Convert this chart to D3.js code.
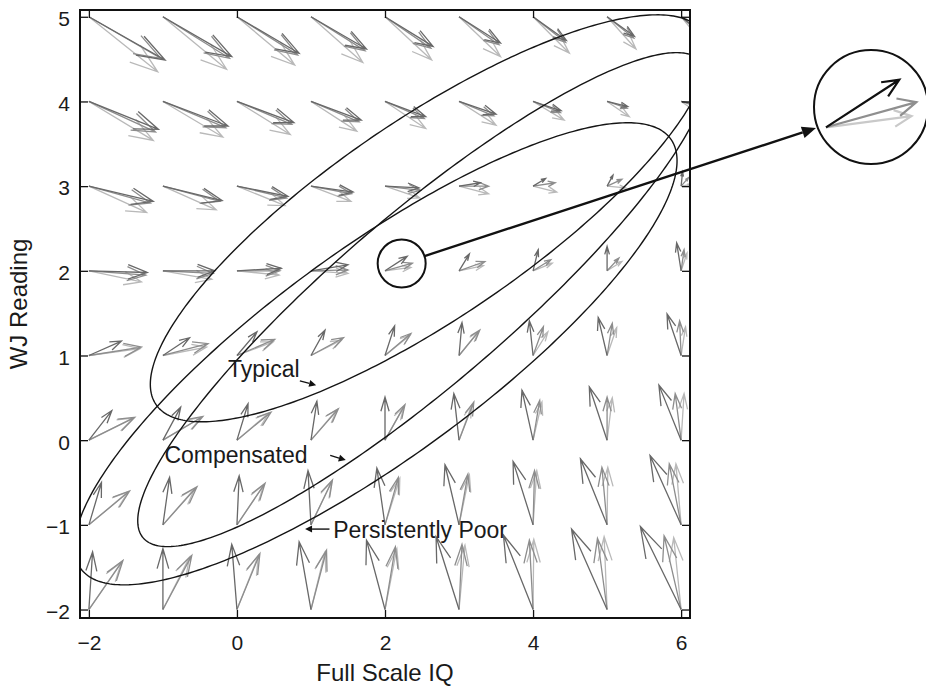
<!DOCTYPE html>
<html>
<head>
<meta charset="utf-8">
<script src="https://cdn.jsdelivr.net/npm/d3@7"></script>
<style>
  html, body { margin: 0; padding: 0; background: #fff; }
  svg { display: block; font-family: "Liberation Sans", Arial, Helvetica, sans-serif; }
</style>
</head>
<body>
<svg id="chart" width="926" height="688"></svg>
<script>
// Grid of starting points (Full Scale IQ across, WJ Reading down the rows)
const gridIQ = [-2, -1, 0, 1, 2, 3, 4, 5, 6];
const gridReading = [5, 4, 3, 2, 1, 0, -1, -2];

const iqTicks = [-2, 0, 2, 4, 6];
const readingTicks = [-2, -1, 0, 1, 2, 3, 4, 5];

// Change vectors [dIQ, dReading], one row per reading level (5 .. -2)
const darkField = [
  [[1.03,-0.51],[0.93,-0.47],[0.84,-0.43],[0.75,-0.38],[0.65,-0.35],[0.56,-0.31],[0.45,-0.28],[0.37,-0.23],[0.28,-0.19]],
  [[0.94,-0.33],[0.88,-0.29],[0.77,-0.25],[0.68,-0.22],[0.55,-0.18],[0.50,-0.15],[0.38,-0.11],[0.28,-0.06],[0.19,-0.03]],
  [[0.87,-0.18],[0.80,-0.17],[0.69,-0.12],[0.57,-0.07],[0.46,-0.02],[0.29,0.04],[0.17,0.09],[0.08,0.13],[0.02,0.17]],
  [[0.79,-0.02],[0.70,0.00],[0.60,0.03],[0.50,0.07],[0.30,0.17],[0.14,0.20],[0.07,0.25],[0.00,0.29],[-0.06,0.33]],
  [[0.44,0.17],[0.36,0.21],[0.27,0.28],[0.19,0.30],[0.13,0.35],[0.04,0.39],[-0.05,0.41],[-0.12,0.45],[-0.19,0.49]],
  [[0.31,0.35],[0.24,0.39],[0.15,0.43],[0.08,0.46],[0.00,0.51],[-0.07,0.55],[-0.15,0.59],[-0.24,0.63],[-0.30,0.65]],
  [[0.17,0.50],[0.09,0.56],[0.03,0.58],[-0.04,0.64],[-0.11,0.67],[-0.19,0.71],[-0.27,0.75],[-0.36,0.78],[-0.42,0.82]],
  [[0.05,0.68],[0.00,0.72],[-0.07,0.77],[-0.16,0.80],[-0.25,0.82],[-0.31,0.86],[-0.40,0.88],[-0.48,0.95],[-0.55,0.98]]
];
const midField = [
  [[0.97,-0.49],[0.90,-0.49],[0.82,-0.45],[0.73,-0.40],[0.62,-0.37],[0.54,-0.33],[0.44,-0.30],[0.36,-0.25],[0.27,-0.21]],
  [[0.90,-0.36],[0.85,-0.31],[0.74,-0.27],[0.65,-0.24],[0.53,-0.20],[0.47,-0.17],[0.37,-0.13],[0.27,-0.08],[0.18,-0.05]],
  [[0.83,-0.20],[0.77,-0.18],[0.67,-0.14],[0.55,-0.09],[0.48,-0.05],[0.40,0.00],[0.30,0.04],[0.20,0.08],[0.10,0.10]],
  [[0.77,-0.05],[0.68,-0.03],[0.58,0.00],[0.50,0.01],[0.37,0.09],[0.35,0.11],[0.24,0.13],[0.16,0.15],[0.04,0.25]],
  [[0.71,0.10],[0.61,0.14],[0.51,0.19],[0.44,0.21],[0.35,0.26],[0.28,0.30],[0.14,0.34],[0.07,0.38],[-0.02,0.41]],
  [[0.62,0.27],[0.54,0.28],[0.46,0.33],[0.37,0.37],[0.27,0.42],[0.20,0.45],[0.09,0.47],[0.00,0.51],[-0.08,0.55]],
  [[0.55,0.40],[0.46,0.45],[0.38,0.49],[0.29,0.53],[0.18,0.56],[0.12,0.60],[0.02,0.64],[-0.07,0.68],[-0.16,0.72]],
  [[0.46,0.58],[0.39,0.64],[0.31,0.66],[0.21,0.70],[0.14,0.74],[0.04,0.77],[-0.05,0.82],[-0.13,0.84],[-0.23,0.87]]
];
const lightField = [
  [[0.93,-0.65],[0.86,-0.62],[0.78,-0.57],[0.70,-0.54],[0.63,-0.51],[0.56,-0.47],[0.49,-0.43],[0.39,-0.38],[0.31,-0.33]],
  [[0.87,-0.46],[0.81,-0.42],[0.72,-0.39],[0.62,-0.35],[0.55,-0.32],[0.50,-0.28],[0.42,-0.22],[0.30,-0.18],[0.22,-0.13]],
  [[0.78,-0.31],[0.72,-0.28],[0.65,-0.23],[0.54,-0.18],[0.47,-0.14],[0.40,-0.09],[0.32,-0.07],[0.25,-0.02],[0.13,0.02]],
  [[0.71,-0.13],[0.66,-0.10],[0.57,-0.05],[0.50,-0.03],[0.35,0.04],[0.33,0.06],[0.26,0.09],[0.20,0.11],[0.08,0.21]],
  [[0.69,0.08],[0.59,0.10],[0.49,0.16],[0.41,0.18],[0.34,0.24],[0.26,0.28],[0.20,0.28],[0.13,0.33],[0.06,0.34]],
  [[0.60,0.26],[0.52,0.27],[0.43,0.32],[0.35,0.36],[0.25,0.39],[0.17,0.41],[0.12,0.45],[0.07,0.50],[0.04,0.55]],
  [[0.53,0.39],[0.43,0.43],[0.36,0.47],[0.28,0.51],[0.20,0.55],[0.14,0.59],[0.05,0.64],[0.01,0.68],[-0.07,0.72]],
  [[0.44,0.56],[0.36,0.62],[0.29,0.64],[0.19,0.68],[0.16,0.72],[0.08,0.76],[0.01,0.83],[-0.04,0.86],[-0.10,0.85]]
];

// Group ellipses: centre, half-width along IQ, lean of the axis, half-height across it
const groupNames = ["Typical", "Compensated", "Persistently Poor"];
const ellipseCentreIQ = [2.6, 2.5, 1.875];
const ellipseCentreReading = [2.62, 1.66, 1.02];
const ellipseHalfWidth = [3.77, 3.84, 4.07];
const ellipseLean = [0.52, 0.68, 0.56];
const ellipseHalfHeight = [1.39, 1.3, 1.5];

// Magnified grid point
const focusIQ = 2, focusReading = 2;

const svg = d3.select("#chart");
const plotLeft = 80, plotRight = 690, plotTop = 10, plotBottom = 618;

const x = d3.scaleLinear().domain([-2.12, 6.12]).range([plotLeft, plotRight]);
const y = d3.scaleLinear().domain([-2.1, 5.08]).range([plotBottom, plotTop]);

svg.append("rect").attr("width", 926).attr("height", 688).attr("fill", "#fff");

svg.append("defs").append("clipPath").attr("id", "plotClip")
  .append("rect").attr("x", plotLeft).attr("y", plotTop)
  .attr("width", plotRight - plotLeft).attr("height", plotBottom - plotTop);

const plot = svg.append("g").attr("clip-path", "url(#plotClip)");

// quiver-style arrow: shaft plus two open barbs, computed in data units
function arrowPath(x0, y0, u, v, alpha, beta, sx, sy) {
  const tx = x0 + u, ty = y0 + v;
  const b1x = tx - alpha * (u + beta * v), b1y = ty - alpha * (v - beta * u);
  const b2x = tx - alpha * (u - beta * v), b2y = ty - alpha * (v + beta * u);
  return `M${sx(x0)},${sy(y0)}L${sx(tx)},${sy(ty)}` +
         `M${sx(b1x)},${sy(b1y)}L${sx(tx)},${sy(ty)}L${sx(b2x)},${sy(b2y)}`;
}

const fieldSeries = [
  { field: lightField, color: "#b9b9b9" },
  { field: midField, color: "#8d8d8d" },
  { field: darkField, color: "#686868" }
];

fieldSeries.forEach(s => {
  const g = plot.append("g").attr("fill", "none").attr("stroke", s.color)
    .attr("stroke-width", 1.3).attr("stroke-linejoin", "miter");
  gridReading.forEach((r, i) => {
    gridIQ.forEach((q, j) => {
      const [u, v] = s.field[i][j];
      g.append("path").attr("d", arrowPath(q, r, u, v, 0.33, 0.33, x, y));
    });
  });
});

// Ellipses
const ts = d3.range(0, 361).map(d => d * Math.PI / 180);
const line = d3.line().x(d => x(d[0])).y(d => y(d[1]));
groupNames.forEach((name, k) => {
  const pts = ts.map(t => {
    const c = Math.cos(t), s = Math.sin(t);
    return [ellipseCentreIQ[k] + ellipseHalfWidth[k] * c,
            ellipseCentreReading[k] + ellipseLean[k] * ellipseHalfWidth[k] * c + ellipseHalfHeight[k] * s];
  });
  plot.append("path").attr("d", line(pts)).attr("fill", "none")
    .attr("stroke", "#151515").attr("stroke-width", 1.4);
});

// Axes: inward ticks on all four sides
const fontTick = 21;
const gx = svg.append("g").attr("transform", `translate(0,${plotBottom})`)
  .call(d3.axisBottom(x).tickValues(iqTicks).tickSize(-8).tickPadding(17));
const gxTop = svg.append("g").attr("transform", `translate(0,${plotTop})`)
  .call(d3.axisTop(x).tickValues(iqTicks).tickSize(-8).tickFormat(""));
const gy = svg.append("g").attr("transform", `translate(${plotLeft},0)`)
  .call(d3.axisLeft(y).tickValues(readingTicks).tickSize(-8).tickPadding(10));
const gyRight = svg.append("g").attr("transform", `translate(${plotRight},0)`)
  .call(d3.axisRight(y).tickValues(readingTicks).tickSize(-8).tickFormat(""));

[gx, gxTop, gy, gyRight].forEach(g => {
  g.select(".domain").remove();
  g.selectAll(".tick line").attr("stroke", "#111").attr("stroke-width", 1.3);
  g.selectAll("text").attr("font-size", fontTick).attr("fill", "#1a1a1a")
    .attr("font-family", "'Liberation Sans', Arial, sans-serif");
});
gy.selectAll("text").attr("dy", "0.42em");

svg.append("rect").attr("x", plotLeft).attr("y", plotTop)
  .attr("width", plotRight - plotLeft).attr("height", plotBottom - plotTop)
  .attr("fill", "none").attr("stroke", "#111").attr("stroke-width", 2);

// Axis titles
svg.append("text").attr("x", 385).attr("y", 681).attr("text-anchor", "middle")
  .attr("font-size", 24).attr("fill", "#1a1a1a").text("Full Scale IQ");
svg.append("text").attr("transform", "translate(27,304) rotate(-90)")
  .attr("text-anchor", "middle").attr("font-size", 24).attr("fill", "#1a1a1a").text("WJ Reading");

// Group labels with pointer arrows
const labelPos = [[-0.12, 0.75], [-0.98, -0.27], [1.30, -1.16]];
const pointerFrom = [[0.85, 0.70], [1.26, -0.18], [1.25, -1.05]];
const pointerTo = [[1.07, 0.65], [1.47, -0.235], [0.92, -1.05]];

function filledPointer(g, p0, p1, headLen, headHalf, width) {
  const ax = x(p0[0]), ay = y(p0[1]), bx = x(p1[0]), by = y(p1[1]);
  const dx = bx - ax, dy = by - ay, L = Math.hypot(dx, dy);
  const ux = dx / L, uy = dy / L;
  const cx = bx - ux * headLen, cy = by - uy * headLen;
  g.append("line").attr("x1", ax).attr("y1", ay).attr("x2", cx).attr("y2", cy)
    .attr("stroke", "#111").attr("stroke-width", width);
  g.append("path").attr("d",
    `M${bx},${by}L${cx - uy * headHalf},${cy + ux * headHalf}L${cx + uy * headHalf},${cy - ux * headHalf}Z`)
    .attr("fill", "#111");
}

const ann = svg.append("g");
groupNames.forEach((name, k) => {
  ann.append("text").attr("x", x(labelPos[k][0])).attr("y", y(labelPos[k][1]))
    .attr("font-size", 23).attr("fill", "#1a1a1a").text(name);
  filledPointer(ann, pointerFrom[k], pointerTo[k], 7, 3.5, 1.4);
});

// Magnifier: ring around the focus point and an enlarged copy of its arrows
const ringIQ = focusIQ + 0.225, ringReading = focusReading + 0.086;
const ringR = 24;
const insetCx = 871, insetCy = 107, insetR = 57;
const insetOrigin = [826, 127.3];
const insetZoom = 3.3;

const rx = x(ringIQ), ry = y(ringReading);
ann.append("circle").attr("cx", rx).attr("cy", ry).attr("r", ringR)
  .attr("fill", "none").attr("stroke", "#111").attr("stroke-width", 2);

{
  const tx = insetOrigin[0] - 10, ty = insetOrigin[1] + 0.7;
  const dx = tx - rx, dy = ty - ry, L = Math.hypot(dx, dy);
  const sx = rx + dx / L * ringR, sy = ry + dy / L * ringR;
  const ux = dx / L, uy = dy / L, headLen = 14, headHalf = 6;
  const cx = tx - ux * headLen, cy = ty - uy * headLen;
  ann.append("line").attr("x1", sx).attr("y1", sy).attr("x2", cx).attr("y2", cy)
    .attr("stroke", "#111").attr("stroke-width", 2.4);
  ann.append("path").attr("d",
    `M${tx},${ty}L${cx - uy * headHalf},${cy + ux * headHalf}L${cx + uy * headHalf},${cy - ux * headHalf}Z`)
    .attr("fill", "#111");
}

ann.append("circle").attr("cx", insetCx).attr("cy", insetCy).attr("r", insetR)
  .attr("fill", "#fff").attr("stroke", "#111").attr("stroke-width", 2);

// enlarged arrows share the main scales' units, scaled about the inset origin
const fi = gridReading.indexOf(focusReading), fj = gridIQ.indexOf(focusIQ);
const kx = (x(1) - x(0)) * insetZoom, ky = (y(0) - y(1)) * insetZoom;
const ix = d => insetOrigin[0] + (d - focusIQ) * kx;
const iy = d => insetOrigin[1] - (d - focusReading) * ky;
const insetColors = ["#c9c9c9", "#8f8f8f", "#111"];
[lightField, midField, darkField].forEach((f, k) => {
  const [u, v] = f[fi][fj];
  ann.append("path").attr("d", arrowPath(focusIQ, focusReading, u, v, 0.2, 0.42, ix, iy))
    .attr("fill", "none").attr("stroke", insetColors[k]).attr("stroke-width", 2.2);
});
</script>
</body>
</html>
